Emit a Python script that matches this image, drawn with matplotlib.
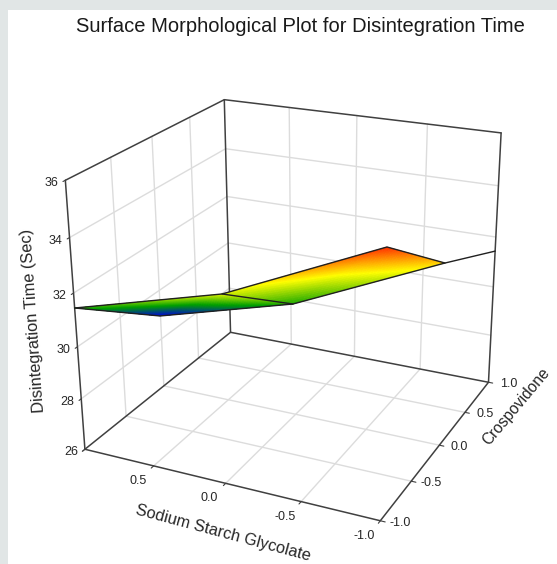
import numpy as np
import matplotlib
matplotlib.use('Agg')
import matplotlib.pyplot as plt
from matplotlib.colors import LinearSegmentedColormap
from matplotlib.patches import Rectangle
from mpl_toolkits.mplot3d import proj3d
from mpl_toolkits.mplot3d.art3d import Poly3DCollection

plt.rcParams['font.family'] = ['Liberation Sans', 'DejaVu Sans']

W_PX, H_PX = 557, 564

x_ticks = [1.0, 0.5, 0.0, -0.5, -1.0]
y_ticks = [-1.0, -0.5, 0.0, 0.5, 1.0]
z_ticks = [26, 28, 30, 32, 34, 36]
x_labels = ['', '0.5', '0.0', '-0.5', '-1.0']
y_labels = ['-1.0', '-0.5', '0.0', '0.5', '1.0']
z_labels = ['26', '28', '30', '32', '34', '36']

# surface vertices
surf_x = [1.0, 0.567, 0.234, -0.169, -0.452, -0.84, -1.0]
surf_y = [-1.0, -0.728, -0.541, -0.387, 0.436, 0.454, 1.0]
surf_z = [31.45, 31.0, 31.75, 31.45, 32.2, 31.9, 31.44]
surf_tris = [(0, 1, 2), (1, 2, 3), (2, 3, 4), (3, 4, 5)]
surf_top = [0, 2, 4, 5, 6]
surf_bottom = [0, 1, 3, 5]
surf_crease = [2, 3]

FRAME = '#404040'
GRID = '#dcdcdc'
TEXT = '#262626'

cmap = LinearSegmentedColormap.from_list(
    'surf', [(0.0, '#0000e6'), (0.33, '#00a000'), (0.68, '#ffff00'), (1.0, '#ff2a00')])


def line3d(ax, xs, ys, zs, color, lw, zorder=2):
    ax.plot(xs, ys, zs, color=color, lw=lw, zorder=zorder, solid_capstyle='round')


def tick_label(ax, text, x, y, z, dx, dy):
    M = ax.get_proj()
    px, py, _ = proj3d.proj_transform(x, y, z, M)
    ax.annotate(text, (px, py), xytext=(dx * 0.72, dy * 0.72), textcoords='offset points',
                ha='center', va='center', fontsize=9, color=TEXT, annotation_clip=False)


def draw_surface(ax):
    zmin, zmax = min(surf_z), max(surf_z)
    polys, colors = [], []
    n = 40
    for tri in surf_tris:
        p = np.array([[surf_x[i], surf_y[i], surf_z[i]] for i in tri])
        for i in range(n):
            for j in range(n - i):
                a = p[0] + (p[1] - p[0]) * i / n + (p[2] - p[0]) * j / n
                b = p[0] + (p[1] - p[0]) * (i + 1) / n + (p[2] - p[0]) * j / n
                c = p[0] + (p[1] - p[0]) * i / n + (p[2] - p[0]) * (j + 1) / n
                polys.append([a, b, c])
                colors.append(cmap((np.mean([a[2], b[2], c[2]]) - zmin) / (zmax - zmin)))
                if j < n - i - 1:
                    d = p[0] + (p[1] - p[0]) * (i + 1) / n + (p[2] - p[0]) * (j + 1) / n
                    polys.append([b, c, d])
                    colors.append(cmap((np.mean([b[2], c[2], d[2]]) - zmin) / (zmax - zmin)))
    ax.add_collection3d(Poly3DCollection(polys, facecolors=colors, edgecolors=colors,
                                         linewidths=0.3, zorder=4))
    for idx in (surf_top, surf_bottom, surf_crease):
        line3d(ax, [surf_x[i] for i in idx], [surf_y[i] for i in idx], [surf_z[i] for i in idx],
               '#202020', 1.0, zorder=5)


def main():
    fig = plt.figure(figsize=(W_PX / 100, H_PX / 100), dpi=100, facecolor='white')
    fig.add_artist(Rectangle((0, 0), 8 / W_PX, 1, transform=fig.transFigure,
                             facecolor='#e1e6e6', edgecolor='none', zorder=-1))
    fig.add_artist(Rectangle((0, 1 - 10 / H_PX), 1, 10 / H_PX, transform=fig.transFigure,
                             facecolor='#e1e6e6', edgecolor='none', zorder=-1))

    ax = fig.add_axes([33.87 / W_PX, 13.37 / H_PX, 507.98 / W_PX, 507.98 / H_PX], projection='3d')
    ax.patch.set_visible(False)
    ax.computed_zorder = False
    ax.set_xlim(1, -1)
    ax.set_ylim(-1, 1)
    ax.set_zlim(26, 36)
    ax.view_init(elev=22.634, azim=-64.3864, roll=0.4396)
    ax.set_proj_type('persp', focal_length=0.5169)
    ax.set_box_aspect((1.0224, 1, 0.9059))
    ax.set_axis_off()

    zlo, zhi = z_ticks[0], z_ticks[-1]

    # grid on floor and the two walls
    for x in x_ticks[1:-1]:
        line3d(ax, [x, x], [-1, 1], [zlo, zlo], GRID, 1.0, 1)
        line3d(ax, [x, x], [1, 1], [zlo, zhi], GRID, 1.0, 1)
    for y in y_ticks[1:-1]:
        line3d(ax, [-1, 1], [y, y], [zlo, zlo], GRID, 1.0, 1)
        line3d(ax, [1, 1], [y, y], [zlo, zhi], GRID, 1.0, 1)
    for z in z_ticks[1:-1]:
        line3d(ax, [1, 1], [-1, 1], [z, z], GRID, 1.0, 1)
        line3d(ax, [1, -1], [1, 1], [z, z], GRID, 1.0, 1)

    # box frame
    line3d(ax, [1, 1, -1], [-1, 1, 1], [zhi, zhi, zhi], FRAME, 1.1)
    line3d(ax, [1, 1], [-1, -1], [zlo, zhi], FRAME, 1.1)
    line3d(ax, [1, 1], [1, 1], [zlo, zhi], FRAME, 1.1)
    line3d(ax, [-1, -1], [1, 1], [zlo, zhi], FRAME, 1.1)
    line3d(ax, [1, 1, -1], [-1, 1, 1], [zlo, zlo, zlo], FRAME, 1.1)
    line3d(ax, [1, -1, -1], [-1, -1, 1], [zlo, zlo, zlo], FRAME, 1.1)

    # ticks and their labels
    for x, lab in zip(x_ticks, x_labels):
        line3d(ax, [x, x], [-1, -1.03], [zlo, zlo], FRAME, 0.8)
        tick_label(ax, lab, x, -1, zlo, -16, -15)
    for y, lab in zip(y_ticks, y_labels):
        line3d(ax, [-1, -1.03], [y, y], [zlo, zlo], FRAME, 0.8)
        tick_label(ax, lab, -1, y, zlo, 20, -2)
    for z, lab in zip(z_ticks, z_labels):
        line3d(ax, [1, 1], [-1, -1.025], [z, z], FRAME, 0.8)
        tick_label(ax, lab, 1, -1, z, -14, -3)

    draw_surface(ax)

    fig.text(300 / W_PX, 1 - 26 / H_PX, 'Surface Morphological Plot for Disintegration Time',
             ha='center', va='center', fontsize=14.5, color='#1a1a1a')
    fig.text(33 / W_PX, 1 - 321 / H_PX, 'Disintegration Time (Sec)', rotation=94,
             rotation_mode='anchor', ha='center', va='center', fontsize=11.8, color=TEXT)
    fig.text(223 / W_PX, 1 - 533 / H_PX, 'Sodium Starch Glycolate', rotation=-15,
             rotation_mode='anchor', ha='center', va='center', fontsize=11.8, color=TEXT)
    fig.text(516 / W_PX, 1 - 407 / H_PX, 'Crospovidone', rotation=50,
             rotation_mode='anchor', ha='center', va='center', fontsize=11.2, color=TEXT)

    fig.savefig('out.png', dpi=100)


if __name__ == "__main__":
    main()
